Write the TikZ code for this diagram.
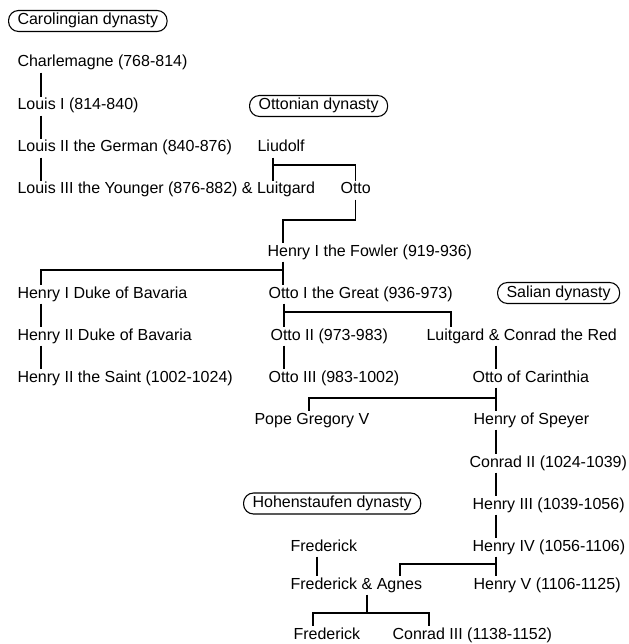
\documentclass[tikz,border=0pt]{standalone}
\usepackage{fontspec}
\setmainfont{Liberation Sans}
\newlength{\du}
\setlength{\du}{1\unitlength}
\tikzset{
  person/.style={anchor=base west, inner xsep=0pt, inner ysep=1.5\du,
    text height=11\du, text depth=3.5\du, font=\fontsize{16}{18}\selectfont},
  dynasty/.style={anchor=west, draw, rounded corners=10\du, inner xsep=9\du,
    inner ysep=3.5\du, text height=11\du, text depth=3\du,
    font=\fontsize{16}{18}\selectfont},
}
\begin{document}
\begin{tikzpicture}
\pgftransformxscale{1.000000}
\pgftransformyscale{-1.000000}
\definecolor{dialinecolor}{rgb}{0.000000, 0.000000, 0.000000}
\pgfsetstrokecolor{dialinecolor}
\pgfsetlinewidth{1.100000\du}
\useasboundingbox (0\du,0\du) rectangle (628\du,644\du);
% dynasties
\node[dynasty] (carol) at (8\du,21\du){Carolingian dynasty};
\node[dynasty] (otton) at (249\du,106\du){Ottonian dynasty};
\node[dynasty] (salian) at (497\du,293\du){Salian dynasty};
\node[dynasty] (hohen) at (243\du,503.5\du){Hohenstaufen dynasty};
% setfont left to latex
\node[person] (charl) at (17\du,67\du){Charlemagne (768-814)};
\node[person] (louis1) at (17\du,110\du){Louis I (814-840)};
\node[person] (louis2) at (17\du,152\du){Louis II the German (840-876)};
\node[person] (louis3) at (17\du,194\du){Louis III the Younger (876-882) \& Luitgard};
\node[person] (liudolf) at (257\du,152\du){Liudolf};
\node[person] (otto) at (340\du,194\du){Otto};
\node[person] (fowler) at (267\du,256\du){Henry I the Fowler (919-936)};
\node[person] (henry1b) at (17\du,298\du){Henry I Duke of Bavaria};
\node[person] (henry2b) at (17\du,340\du){Henry II Duke of Bavaria};
\node[person] (saint) at (17\du,382\du){Henry II the Saint (1002-1024)};
\node[person] (ottoI) at (268\du,298\du){Otto I the Great (936-973)};
\node[person] (ottoII) at (270\du,340\du){Otto II (973-983)};
\node[person] (ottoIII) at (268\du,382\du){Otto III (983-1002)};
\node[person] (luitgard) at (426\du,340\du){Luitgard \& Conrad the Red};
\node[person] (carinthia) at (472\du,382\du){Otto of Carinthia};
\node[person] (gregory) at (254\du,424\du){Pope Gregory V};
\node[person] (speyer) at (473\du,424\du){Henry of Speyer};
\node[person] (conrad2) at (469\du,467\du){Conrad II (1024-1039)};
\node[person] (henry3) at (472\du,509\du){Henry III (1039-1056)};
\node[person] (henry4) at (472\du,551\du){Henry IV (1056-1106)};
\node[person] (henry5) at (473\du,589\du){Henry V (1106-1125)};
\node[person] (fred1) at (290\du,551\du){Frederick};
\node[person] (fredagnes) at (290\du,589\du){Frederick \& Agnes};
\node[person] (fred2) at (293\du,639\du){Frederick};
\node[person] (conrad3) at (392\du,639\du){Conrad III (1138-1152)};
% junctions
\coordinate (liuj) at (273\du,165\du);
\coordinate (ottoj) at (283\du,220\du);
\coordinate (fowj) at (283\du,270\du);
\coordinate (oij) at (284\du,312\du);
\coordinate (carj) at (496\du,398\du);
\coordinate (h4j) at (496\du,564\du);
\coordinate (faj) at (367\du,613\du);
% carolingian line
\draw ([xshift=24\du]charl.south west) -- ([xshift=24\du]louis1.north west);
\draw ([xshift=24\du]louis1.south west) -- ([xshift=24\du]louis2.north west);
\draw ([xshift=24\du]louis2.south west) -- ([xshift=24\du]louis3.north west);
% ottonian line
\draw (liudolf.south -| liuj) -- (louis3.north -| liuj);
\draw (liuj) -| (otto.north);
\draw (otto.south) |- (ottoj) -- (fowler.north -| ottoj);
\draw (fowler.south -| fowj) -- (ottoI.north -| fowj);
\draw (fowj) -| ([xshift=24\du]henry1b.north west);
\draw ([xshift=24\du]henry1b.south west) -- ([xshift=24\du]henry2b.north west);
\draw ([xshift=24\du]henry2b.south west) -- ([xshift=24\du]saint.north west);
\draw (ottoI.south -| oij) -- (ottoII.north -| oij);
\draw (oij) -| ([xshift=25\du]luitgard.north west);
\draw (ottoII.south -| oij) -- (ottoIII.north -| oij);
% salian line
\draw (luitgard.south -| carj) -- (carinthia.north -| carj);
\draw (carinthia.south -| carj) -- (speyer.north -| carj);
\draw (carj) -| ([xshift=55\du]gregory.north west);
\draw (speyer.south -| carj) -- (conrad2.north -| carj);
\draw (conrad2.south -| carj) -- (henry3.north -| carj);
\draw (henry3.south -| carj) -- (henry4.north -| carj);
\draw (henry4.south -| carj) -- (henry5.north -| carj);
% hohenstaufen line
\draw (h4j) -| ([xshift=110\du]fredagnes.north west);
\draw ([xshift=27\du]fred1.south west) -- ([xshift=27\du]fredagnes.north west);
\draw (fredagnes.south -| faj) -- (faj);
\draw ([xshift=20\du]fred2.north west) |- (faj) -| ([xshift=37\du]conrad3.north west);
\end{tikzpicture}
\end{document}
